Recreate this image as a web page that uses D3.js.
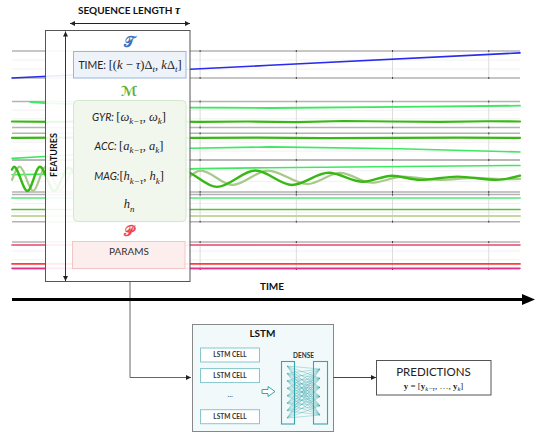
<!DOCTYPE html>
<html><head><meta charset="utf-8">
<script src="https://cdn.jsdelivr.net/npm/d3@7"></script>
<style>body{margin:0;background:#fff}svg{display:block}</style>
</head><body><svg id="c" width="537" height="435"></svg>
<script>
// ---------------- DATA ----------------
// time axis in samples; vertical grid ticks
const timeDomain = [5, 533];
const timeTicks = [200, 300, 400, 500];
// each series: [sample, normalised value 0 (panel bottom) .. 1 (panel top)]
const timeFeature = [[5, 0.0], [273, 0.47], [533, 0.93]];
const gyrA = [[24, 0.98], [39, 0.94], [97, 0.87], [190, 0.77], [273, 0.75], [408, 0.79], [533, 0.84]];
const gyrB = [[5, 0.23], [50, 0.22], [100, 0.24], [150, 0.23], [200, 0.22], [250, 0.23], [300, 0.21], [350, 0.25], [400, 0.23], [450, 0.22], [500, 0.24], [533, 0.23]];
const accA = [[5, 0.83], [60, 0.84], [120, 0.82], [200, 0.83], [260, 0.84], [330, 0.82], [400, 0.83], [470, 0.84], [533, 0.83]];
const accB = [[5, 0.06], [39, 0.13], [190, 0.44], [273, 0.49], [408, 0.42], [533, 0.30]];
const magA = [[5, 0.54], [39, 0.56], [200, 0.73], [273, 0.76], [533, 0.83]];
const magB = [[5, 0.70], [7, 0.79], [21, 0.03], [34, 0.79], [49, 0.03], [64, 0.76], [81, 0.06], [99, 0.76], [117, 0.10], [137, 0.73], [158, 0.13], [180, 0.70], [218, 0.16], [258, 0.67], [296, 0.22], [334, 0.60], [370, 0.32], [400, 0.51], [429, 0.38], [468, 0.48], [509, 0.38], [533, 0.51]];
const magC = [[5, 0.38], [13, 0.79], [27, 0.03], [40, 0.79], [55, 0.06], [71, 0.76], [88, 0.10], [107, 0.73], [127, 0.13], [148, 0.73], [173, 0.16], [201, 0.67], [234, 0.22], [271, 0.67], [312, 0.25], [346, 0.60], [379, 0.29], [411, 0.48], [450, 0.38], [486, 0.44], [518, 0.40], [533, 0.41]];
const hnA = [[5, 0.87], [533, 0.87]];
const hnB = [[5, 0.45], [533, 0.45]];
const hnC = [[5, 0.21], [533, 0.21]];
const parA = [[5, 0.89], [533, 0.89]];
const parB = [[5, 0.19], [533, 0.19]];
const parC = [[5, 0.03], [533, 0.03]];
const lstmCells = ["LSTM CELL", "LSTM CELL", "…", "LSTM CELL"];
const denseIn = [0, 1, 2, 3, 4, 5, 6, 7];
const denseOut = [0, 1, 2, 3, 4, 5];

// ---------------- LAYOUT ----------------
const SANS = "Lato, 'Open Sans', 'Liberation Sans', sans-serif";
const SERIF = "'Liberation Serif', 'DejaVu Serif', serif";
const MATH = "'DejaVu Serif', 'DejaVu Sans', 'Noto Sans', serif";
const svg = d3.select("#c");
const defs = svg.append("defs");
function marker(id, w, h, col) {
  defs.append("marker").attr("id", id).attr("viewBox", "0 0 10 10").attr("refX", 10).attr("refY", 5)
    .attr("markerWidth", w).attr("markerHeight", h).attr("orient", "auto-start-reverse").attr("markerUnits", "userSpaceOnUse")
    .append("path").attr("d", "M0,0L10,5L0,10z").attr("fill", col);
}
marker("ahs", 6, 5, "#222");

const x = d3.scaleLinear().domain(timeDomain).range([12, 520]);

const panels = [
  {band: [51, 78], series: [{d: timeFeature, c: "#2a2af0", w: 1.6}]},
  {band: [101.5, 127.5], series: [{d: gyrA, c: "#3ee860", w: 1.8}, {d: gyrB, c: "#38b814", w: 2.2}]},
  {band: [133.3, 160], series: [{d: accA, c: "#38b814", w: 2.2}, {d: accB, c: "#3ee860", w: 1.6}]},
  {band: [160, 192], series: [{d: magA, c: "#3ee860", w: 1.6}, {d: magC, c: "#a9c98a", w: 2.2, curve: true}, {d: magB, c: "#38b814", w: 2.4, curve: true}]},
  {band: [194.5, 221.7], series: [{d: hnA, c: "#7eec9a", w: 2}, {d: hnB, c: "#5cc038", w: 1.6}, {d: hnC, c: "#c2d9a4", w: 2}]},
  {band: [242, 269], series: [{d: parA, c: "#e8466e", w: 1.6}, {d: parB, c: "#ff3b3b", w: 1.8}, {d: parC, c: "#e0308c", w: 1.6}]}
];

const plot = svg.append("g");
panels.forEach(p => {
  const [top, bot] = p.band;
  const y = d3.scaleLinear().domain([0, 1]).range([bot, top]);
  const g = plot.append("g");
  [1/3, 2/3].forEach(v => g.append("line").attr("x1", 12).attr("x2", 520).attr("y1", y(v)).attr("y2", y(v))
    .attr("stroke", "#f1f1f1").attr("stroke-width", 1));
  const grid = g.append("g").attr("transform", `translate(0,${bot})`)
    .call(d3.axisBottom(x).tickValues(timeTicks).tickSize(-(bot - top)).tickFormat(""));
  grid.select(".domain").remove();
  grid.selectAll("line").attr("stroke", "#dcdcdc").attr("stroke-width", 1);
  [top, bot].forEach(v => g.append("line").attr("x1", 12).attr("x2", 520).attr("y1", v).attr("y2", v)
    .attr("stroke", "#b3b3b3").attr("stroke-width", 1.4));
  const tb = g.append("g").attr("transform", `translate(0,${bot})`).call(d3.axisBottom(x).tickValues(timeTicks).tickSize(2).tickFormat(""));
  tb.select(".domain").remove(); tb.selectAll("line").attr("stroke", "#444").attr("transform", "translate(0,-1)");
  const tt = g.append("g").attr("transform", `translate(0,${top})`).call(d3.axisTop(x).tickValues(timeTicks).tickSize(2).tickFormat(""));
  tt.select(".domain").remove(); tt.selectAll("line").attr("stroke", "#444").attr("transform", "translate(0,1)");
  p.series.forEach(s => {
    const line = d3.line().x(d => x(d[0])).y(d => y(d[1])).curve(s.curve ? d3.curveMonotoneX : d3.curveLinear);
    g.append("path").attr("d", line(s.d)).attr("fill", "none").attr("stroke", s.c).attr("stroke-width", s.w)
      .attr("stroke-linecap", "round");
  });
});

// connector from window to LSTM (under the time arrow)
svg.append("path").attr("d", "M130,282V377.5H191").attr("fill", "none").attr("stroke", "#666").attr("stroke-width", 1)
  .attr("marker-end", "url(#ahs)");

// Time arrow
svg.append("line").attr("x1", 12).attr("x2", 524).attr("y1", 299.5).attr("y2", 299.5).attr("stroke", "#000").attr("stroke-width", 3.2);
svg.append("path").attr("d", "M522,294L535,299.5L522,305z").attr("fill", "#000");
svg.append("text").attr("x", 272).attr("y", 290).attr("text-anchor", "middle").style("font-family", SANS)
  .style("font-weight", "bold").style("font-size", "10px").attr("fill", "#111").text("TIME");

// window box
svg.append("rect").attr("x", 45.5).attr("y", 30.5).attr("width", 144.5).attr("height", 251)
  .attr("fill", "#fff").attr("fill-opacity", 0.9).attr("stroke", "#555").attr("stroke-width", 1);
svg.append("line").attr("x1", 70).attr("x2", 190).attr("y1", 23.5).attr("y2", 23.5).attr("stroke", "#222")
  .attr("marker-start", "url(#ahs)").attr("marker-end", "url(#ahs)");
const seq = svg.append("text").attr("x", 129).attr("y", 13.5).attr("text-anchor", "middle").style("font-family", SANS)
  .style("font-weight", "bold").style("font-size", "10px").attr("fill", "#111");
seq.append("tspan").text("SEQUENCE LENGTH ");
seq.append("tspan").text("τ").style("font-family", SERIF).style("font-style", "italic").style("font-size", "11.5px");
svg.append("line").attr("x1", 65.5).attr("x2", 65.5).attr("y1", 31.5).attr("y2", 281).attr("stroke", "#333")
  .attr("marker-start", "url(#ahs)").attr("marker-end", "url(#ahs)");
svg.append("text").attr("transform", "translate(57,155) rotate(-90)").attr("text-anchor", "middle")
  .style("font-family", SANS).style("font-weight", "bold").style("font-size", "9px").attr("fill", "#111").text("FEATURES");

function rich(x0, y0, parts, base, col) {
  const t = svg.append("text").attr("x", x0).attr("y", y0).attr("text-anchor", "middle")
    .style("font-size", base + "px").attr("fill", col || "#222");
  let shift = 0;
  parts.forEach(p => {
    const s = t.append("tspan").text(p.t);
    const target = p.sub ? base * 0.3 : 0;
    if (target !== shift) { s.attr("dy", target - shift); shift = target; }
    s.style("font-family", p.f === "s" ? SANS : (p.f === "m" ? MATH : SERIF));
    if (p.i) s.style("font-style", "italic");
    if (p.b) s.style("font-weight", "bold");
    if (p.sub) s.style("font-size", (base * 0.72) + "px");
    if (p.fs) s.style("font-size", p.fs + "px");
  });
  return t;
}

// T section
rich(129, 47, [{t: "𝒯", f: "m", b: true}], 14, "#3a73b8");
svg.append("rect").attr("x", 73.5).attr("y", 51.5).attr("width", 112.5).attr("height", 26.5)
  .attr("fill", "#eef3fa").attr("stroke", "#9ab6dc").attr("stroke-width", 1);
rich(130, 68.5, [{t: "TIME: ", f: "s", fs: 10.5}, {t: "[("}, {t: "k", i: true}, {t: " − "}, {t: "τ", i: true}, {t: ")Δ"},
  {t: "t", i: true, sub: true}, {t: ", "}, {t: "k", i: true}, {t: "Δ"}, {t: "t", i: true, sub: true}, {t: "]"}], 12.5);

// M section
rich(129, 95.5, [{t: "ℳ", f: "m", b: true, i: true}], 14, "#5cae2e");
svg.append("rect").attr("x", 73.5).attr("y", 100.5).attr("width", 112.5).attr("height", 121).attr("rx", 4)
  .attr("fill", "#f2f7ee").attr("stroke", "#d6e8cb").attr("stroke-width", 1);
rich(129, 120.5, [{t: "GYR: ", f: "s", i: true, fs: 10.5}, {t: "["}, {t: "ω", i: true}, {t: "k−τ", i: true, sub: true}, {t: ", "},
  {t: "ω", i: true}, {t: "k", i: true, sub: true}, {t: "]"}], 12.5);
rich(129, 149.5, [{t: "ACC: ", f: "s", i: true, fs: 10.5}, {t: "["}, {t: "a", i: true}, {t: "k−τ", i: true, sub: true}, {t: ", "},
  {t: "a", i: true}, {t: "k", i: true, sub: true}, {t: "]"}], 12.5);
rich(129, 180, [{t: "MAG:", f: "s", i: true, fs: 10.5}, {t: "["}, {t: "h", i: true}, {t: "k−τ", i: true, sub: true}, {t: ", "},
  {t: "h", i: true}, {t: "k", i: true, sub: true}, {t: "]"}], 12.5);
rich(129, 208, [{t: "h", i: true}, {t: "n", i: true, sub: true}], 12.5);

// P section
rich(129, 235.5, [{t: "𝒫", f: "m", b: true}], 14, "#f04848");
svg.append("rect").attr("x", 72.5).attr("y", 241.5).attr("width", 112.5).attr("height", 27)
  .attr("fill", "#fdeeee").attr("stroke", "#f3c6c6").attr("stroke-width", 1);
svg.append("text").attr("x", 129).attr("y", 255).attr("text-anchor", "middle").style("font-family", SANS)
  .style("font-size", "10px").attr("fill", "#333").text("PARAMS");

// LSTM block
svg.append("rect").attr("x", 192.5).attr("y", 324.5).attr("width", 141).attr("height", 107)
  .attr("fill", "#f2f9fa").attr("stroke", "#888").attr("stroke-width", 1);
svg.append("text").attr("x", 262.5).attr("y", 337).attr("text-anchor", "middle").style("font-family", SANS)
  .style("font-weight", "bold").style("font-size", "10px").attr("fill", "#111").text("LSTM");
const cellY = d3.scalePoint().domain(d3.range(lstmCells.length)).range([355, 416.7]);
lstmCells.forEach((c, i) => {
  const cy = cellY(i);
  if (c !== "…") {
    svg.append("rect").attr("x", 200.5).attr("y", cy - 7).attr("width", 59).attr("height", 14)
      .attr("fill", "#fff").attr("stroke", "#86c7cd").attr("stroke-width", 1);
    svg.append("text").attr("x", 230).attr("y", cy + 2.4).attr("text-anchor", "middle").style("font-family", SANS)
      .style("font-weight", "bold").style("font-size", "6.5px").attr("fill", "#333").text(c);
  } else {
    svg.append("text").attr("x", 230).attr("y", cy + 1).attr("text-anchor", "middle").style("font-family", SANS)
      .style("font-size", "7px").attr("fill", "#333").text("…");
  }
});
svg.append("path").attr("d", "M262,389.5H268V386.5L275,391.5L268,396.5V393.5H262z").attr("fill", "#fff")
  .attr("stroke", "#3aa4ac").attr("stroke-width", 1);
svg.append("text").attr("x", 303.5).attr("y", 357.5).attr("text-anchor", "middle").style("font-family", SANS)
  .style("font-weight", "bold").style("font-size", "6.5px").attr("fill", "#333").text("DENSE");
svg.append("rect").attr("x", 281.5).attr("y", 361.5).attr("width", 13).attr("height", 62.5)
  .attr("fill", "none").attr("stroke", "#3aa4ac").attr("stroke-width", 1.1);
svg.append("rect").attr("x", 313.5).attr("y", 361.5).attr("width", 14).attr("height", 62.5)
  .attr("fill", "none").attr("stroke", "#3aa4ac").attr("stroke-width", 1.1);
const yin = d3.scalePoint().domain(denseIn).range([366, 418]);
const yout = d3.scalePoint().domain(denseOut).range([369, 415]);
const dg = svg.append("g");
denseIn.forEach(a => denseOut.forEach(b => {
  dg.append("line").attr("x1", 287).attr("y1", yin(a)).attr("x2", 320).attr("y2", yout(b))
    .attr("stroke", "#2b9ea6").attr("stroke-width", 0.45).attr("stroke-opacity", 0.7);
}));

svg.append("line").attr("x1", 333.5).attr("x2", 376).attr("y1", 377.5).attr("y2", 377.5).attr("stroke", "#444")
  .attr("marker-end", "url(#ahs)");
svg.append("rect").attr("x", 376.5).attr("y", 360.5).attr("width", 114.5).attr("height", 34.5)
  .attr("fill", "#fff").attr("stroke", "#555").attr("stroke-width", 1);
svg.append("text").attr("x", 433.5).attr("y", 376).attr("text-anchor", "middle").style("font-family", SANS)
  .style("font-size", "11.5px").attr("fill", "#222").text("PREDICTIONS");
rich(433.5, 388.5, [{t: "y", b: true}, {t: " = ["}, {t: "y", b: true}, {t: "k−τ", i: true, sub: true}, {t: ", …, "},
  {t: "y", b: true}, {t: "k", i: true, sub: true}, {t: "]"}], 9, "#222");
</script></body></html>
